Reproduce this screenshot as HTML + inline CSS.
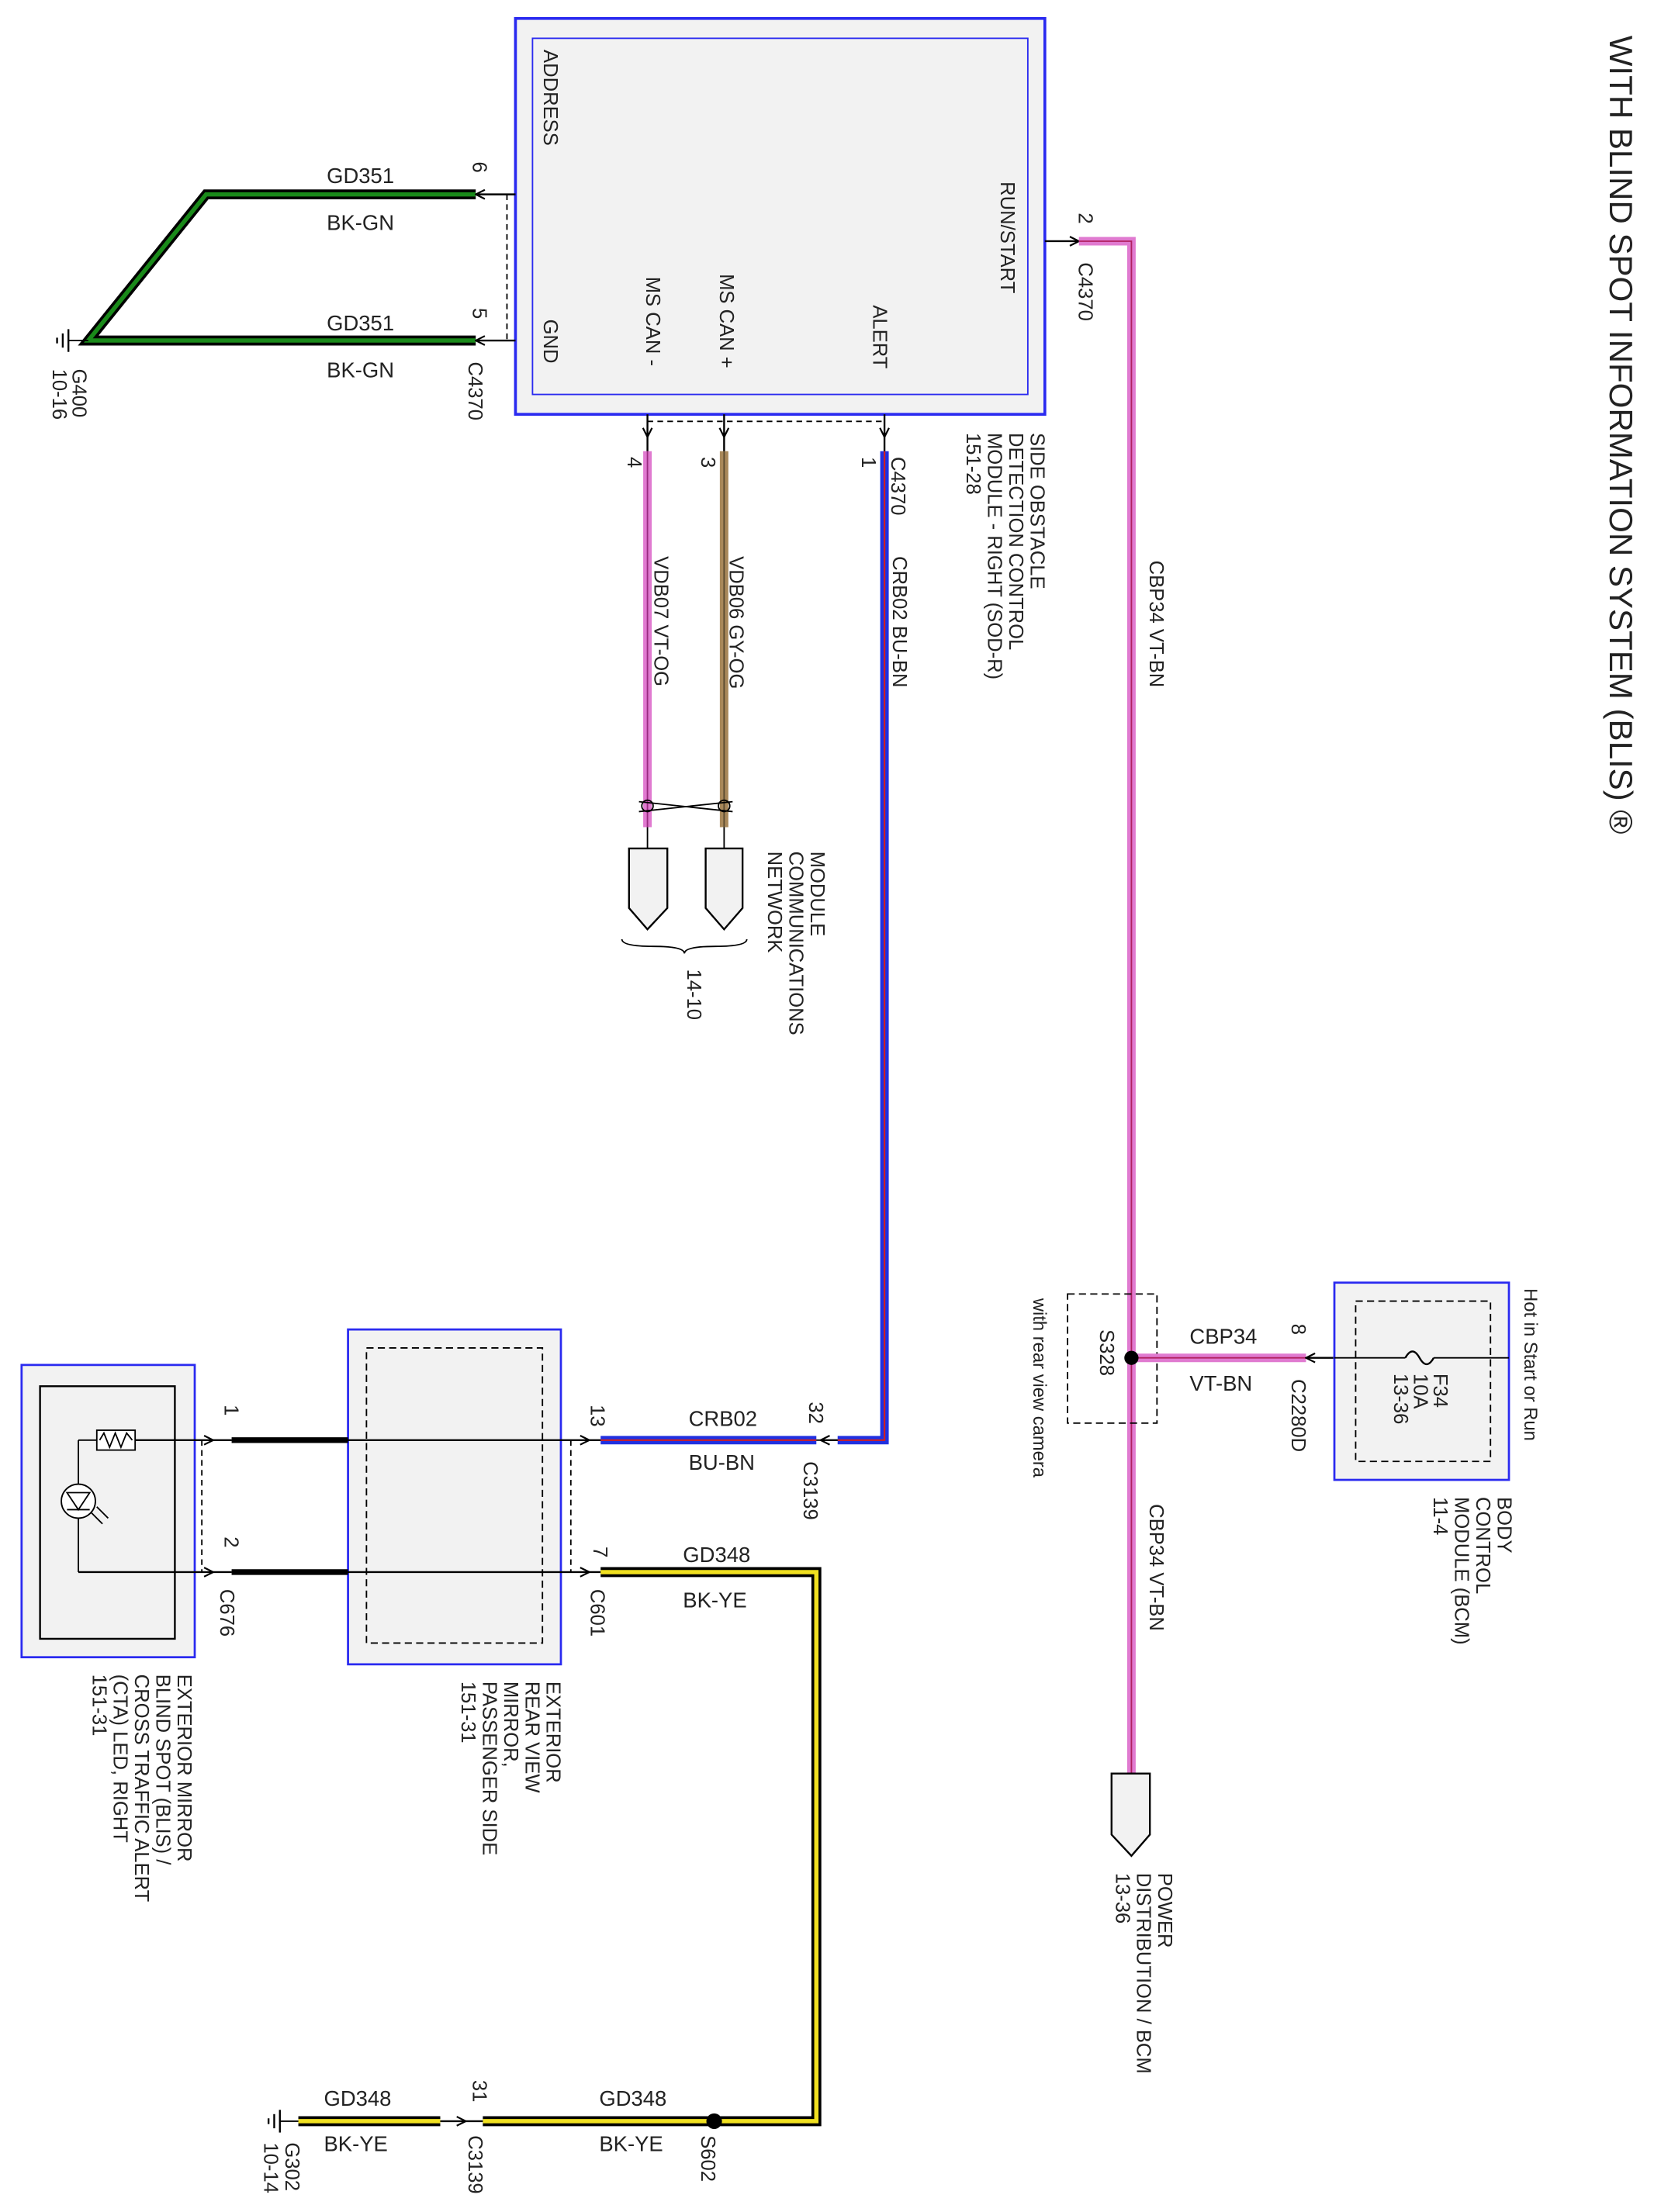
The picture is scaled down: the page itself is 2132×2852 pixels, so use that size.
<!DOCTYPE html>
<html><head><meta charset="utf-8"><style>
html,body{margin:0;padding:0;background:#fff;}
svg{display:block;}
text{font-family:"Liberation Sans",sans-serif;fill:#222;}
</style></head><body>
<svg width="2132" height="2852" viewBox="0 0 1165 1559" xmlns="http://www.w3.org/2000/svg">
<defs>
<marker id="ar" viewBox="0 0 10 10" refX="9" refY="5" markerWidth="8" markerHeight="8" orient="auto-start-reverse" markerUnits="userSpaceOnUse"><path d="M1,1 L9,5 L1,9" fill="none" stroke="#000" stroke-width="1.5"/></marker>
</defs>
<rect width="1165" height="1559" fill="#fff"/>

<text transform="translate(1134,25) rotate(90)" font-size="23">WITH BLIND SPOT INFORMATION SYSTEM (BLIS) ®</text>

<rect x="363" y="13" width="373" height="279" fill="#f2f2f2" stroke="#2a2af0" stroke-width="2"/>
<rect x="375" y="27" width="349" height="251" fill="#f2f2f2" stroke="#2a2af0" stroke-width="1"/>
<g font-size="14">
<text transform="translate(383,35) rotate(90)">ADDRESS</text>
<text transform="translate(383,225) rotate(90)">GND</text>
<text transform="translate(455,195) rotate(90)">MS CAN -</text>
<text transform="translate(507,193) rotate(90)">MS CAN +</text>
<text transform="translate(615,215) rotate(90)">ALERT</text>
<text transform="translate(705,128) rotate(90)">RUN/START</text>
</g>

<path d="M335,137 L145,137 L62,240 L335,240" fill="none" stroke="#000" stroke-width="7"/>
<path d="M335,137 L145,137 L62,240 L335,240" fill="none" stroke="#1a8a1a" stroke-width="3"/>
<line x1="335" y1="137" x2="363" y2="137" stroke="#000" stroke-width="1.3" marker-start="url(#ar)"/>
<line x1="335" y1="240" x2="363" y2="240" stroke="#000" stroke-width="1.3" marker-start="url(#ar)"/>
<line x1="357" y1="137" x2="357" y2="240" stroke="#000" stroke-dasharray="4,3"/>
<line x1="62" y1="240" x2="48" y2="240" stroke="#000"/>
<line x1="48" y1="232" x2="48" y2="248" stroke="#000" stroke-width="1.3"/>
<line x1="44" y1="235" x2="44" y2="245" stroke="#000" stroke-width="1.3"/>
<line x1="40" y1="238" x2="40" y2="242" stroke="#000" stroke-width="1.3"/>
<g font-size="15">
<text x="230" y="129">GD351</text>
<text x="230" y="162">BK-GN</text>
<text x="230" y="233">GD351</text>
<text x="230" y="266">BK-GN</text>
</g>
<g font-size="14">
<text transform="translate(333,114) rotate(90)">6</text>
<text transform="translate(333,217) rotate(90)">5</text>
<text transform="translate(330,255) rotate(90)">C4370</text>
<text transform="translate(51,260) rotate(90)">G400</text>
<text transform="translate(37,260) rotate(90)">10-16</text>
</g>

<line x1="456" y1="297" x2="623" y2="297" stroke="#000" stroke-dasharray="4,3"/>
<line x1="456" y1="292" x2="456" y2="308" stroke="#000" stroke-width="1.3" marker-end="url(#ar)"/>
<line x1="510" y1="292" x2="510" y2="308" stroke="#000" stroke-width="1.3" marker-end="url(#ar)"/>
<line x1="623" y1="292" x2="623" y2="308" stroke="#000" stroke-width="1.3" marker-end="url(#ar)"/>
<line x1="456" y1="305" x2="456" y2="320" stroke="#000" stroke-width="1.3"/>
<line x1="510" y1="305" x2="510" y2="320" stroke="#000" stroke-width="1.3"/>
<line x1="623" y1="305" x2="623" y2="320" stroke="#000" stroke-width="1.3"/>
<line x1="456" y1="318" x2="456" y2="583" stroke="#e07ad0" stroke-width="6"/>
<line x1="456" y1="318" x2="456" y2="583" stroke="#9a2a80" stroke-width="1"/>
<line x1="510" y1="318" x2="510" y2="583" stroke="#a8885a" stroke-width="6"/>
<line x1="510" y1="318" x2="510" y2="583" stroke="#5a4a30" stroke-width="1"/>
<path d="M450,565 L516,572 M450,572 L516,565" stroke="#000" fill="none"/>
<ellipse cx="456" cy="568" rx="4" ry="4" fill="none" stroke="#000"/>
<ellipse cx="510" cy="568" rx="4" ry="4" fill="none" stroke="#000"/>
<line x1="456" y1="583" x2="456" y2="598" stroke="#000"/>
<line x1="510" y1="583" x2="510" y2="598" stroke="#000"/>
<path d="M443,598 L470,598 L470,640 L456,655 L443,640 Z" fill="#f2f2f2" stroke="#000" stroke-width="1.3"/>
<path d="M497,598 L523,598 L523,640 L510,655 L497,640 Z" fill="#f2f2f2" stroke="#000" stroke-width="1.3"/>
<path d="M438,662 Q438,667 460,667 Q482,667 482,672 Q482,667 504,667 Q526,667 526,662" fill="none" stroke="#000"/>
<g font-size="14">
<text transform="translate(442,322) rotate(90)">4</text>
<text transform="translate(494,322) rotate(90)">3</text>
<text transform="translate(607,322) rotate(90)">1</text>
<text transform="translate(628,322) rotate(90)">C4370</text>
<text transform="translate(461,392) rotate(90)">VDB07   VT-OG</text>
<text transform="translate(514,392) rotate(90)">VDB06   GY-OG</text>
<text transform="translate(629,392) rotate(90)">CRB02   BU-BN</text>
<text transform="translate(571,600) rotate(90)">MODULE</text>
<text transform="translate(556,600) rotate(90)">COMMUNICATIONS</text>
<text transform="translate(541,600) rotate(90)">NETWORK</text>
<text transform="translate(484,683) rotate(90)">14-10</text>
<text transform="translate(726,305) rotate(90)">SIDE OBSTACLE</text>
<text transform="translate(711,305) rotate(90)">DETECTION CONTROL</text>
<text transform="translate(696,305) rotate(90)">MODULE - RIGHT (SOD-R)</text>
<text transform="translate(681,305) rotate(90)">151-28</text>
</g>

<path d="M623,318 L623,1015 L590,1015" fill="none" stroke="#2030e0" stroke-width="6"/>
<path d="M623,318 L623,1015 L590,1015" fill="none" stroke="#d02020" stroke-width="1.2"/>
<path d="M423,1015 L575,1015" fill="none" stroke="#2030e0" stroke-width="6"/>
<path d="M423,1015 L575,1015" fill="none" stroke="#d02020" stroke-width="1.2"/>
<line x1="590" y1="1015" x2="578" y2="1015" stroke="#000" stroke-width="1.3" marker-end="url(#ar)"/>
<line x1="578" y1="1015" x2="575" y2="1015" stroke="#000"/>

<line x1="736" y1="170" x2="760" y2="170" stroke="#000" stroke-width="1.3" marker-end="url(#ar)"/>
<path d="M760,170 L797,170 L797,1250" fill="none" stroke="#e07ad0" stroke-width="6"/>
<path d="M760,170 L797,170 L797,1250" fill="none" stroke="#b02060" stroke-width="1"/>
<g font-size="14">
<text transform="translate(760,150) rotate(90)">2</text>
<text transform="translate(760,185) rotate(90)">C4370</text>
<text transform="translate(810,395) rotate(90)">CBP34   VT-BN</text>
<text transform="translate(810,1060) rotate(90)">CBP34   VT-BN</text>
<text transform="translate(728,915) rotate(90)" font-size="13">with rear view camera</text>
<text transform="translate(775,937) rotate(90)">S328</text>
</g>
<rect x="752" y="912" width="63" height="91" fill="none" stroke="#000" stroke-dasharray="5,3"/>
<line x1="797" y1="957" x2="920" y2="957" stroke="#e07ad0" stroke-width="6"/>
<line x1="797" y1="957" x2="920" y2="957" stroke="#b02060" stroke-width="1"/>
<circle cx="797" cy="957" r="5" fill="#000"/>
<line x1="920" y1="957" x2="940" y2="957" stroke="#000" stroke-width="1.3" marker-start="url(#ar)"/>
<g font-size="15">
<text x="838" y="947">CBP34</text>
<text x="838" y="980">VT-BN</text>
</g>
<g font-size="14">
<text transform="translate(910,933) rotate(90)">8</text>
<text transform="translate(910,972) rotate(90)">C2280D</text>
</g>

<rect x="940" y="904" width="123" height="139" fill="#f2f2f2" stroke="#2a2af0" stroke-width="1.5"/>
<rect x="955" y="917" width="95" height="113" fill="none" stroke="#000" stroke-dasharray="5,3"/>
<line x1="940" y1="957" x2="990" y2="957" stroke="#000"/>
<line x1="1010" y1="957" x2="1063" y2="957" stroke="#000"/>
<path d="M990,957 Q995,948 1000,957 Q1005,966 1010,957" fill="none" stroke="#000" stroke-width="1.3"/>
<g font-size="14">
<text transform="translate(1010,968) rotate(90)">F34</text>
<text transform="translate(996,968) rotate(90)">10A</text>
<text transform="translate(982,968) rotate(90)">13-36</text>
<text transform="translate(1074,908) rotate(90)" font-size="13">Hot in Start or Run</text>
<text transform="translate(1055,1055) rotate(90)">BODY</text>
<text transform="translate(1040,1055) rotate(90)">CONTROL</text>
<text transform="translate(1025,1055) rotate(90)">MODULE (BCM)</text>
<text transform="translate(1010,1055) rotate(90)">11-4</text>
</g>
<path d="M783,1250 L810,1250 L810,1293 L797,1308 L783,1293 Z" fill="#f2f2f2" stroke="#000" stroke-width="1.3"/>
<g font-size="14">
<text transform="translate(816,1320) rotate(90)">POWER</text>
<text transform="translate(801,1320) rotate(90)">DISTRIBUTION / BCM</text>
<text transform="translate(786,1320) rotate(90)">13-36</text>
</g>

<rect x="245" y="937" width="150" height="236" fill="#f2f2f2" stroke="#2a2af0" stroke-width="1.5"/>
<rect x="258" y="950" width="124" height="208" fill="none" stroke="#000" stroke-dasharray="5,3"/>
<line x1="163" y1="1015" x2="245" y2="1015" stroke="#000" stroke-width="4"/>
<line x1="163" y1="1108" x2="245" y2="1108" stroke="#000" stroke-width="4"/>
<line x1="245" y1="1015" x2="415" y2="1015" stroke="#000" stroke-width="1.3" marker-end="url(#ar)"/>
<line x1="245" y1="1108" x2="415" y2="1108" stroke="#000" stroke-width="1.3" marker-end="url(#ar)"/>
<line x1="413" y1="1015" x2="423" y2="1015" stroke="#000" stroke-width="1.3"/>
<line x1="413" y1="1108" x2="423" y2="1108" stroke="#000" stroke-width="1.3"/>
<line x1="402" y1="1015" x2="402" y2="1108" stroke="#000" stroke-dasharray="4,3"/>
<g font-size="15">
<text x="485" y="1005">CRB02</text>
<text x="485" y="1036">BU-BN</text>
<text x="481" y="1101">GD348</text>
<text x="481" y="1133">BK-YE</text>
</g>
<g font-size="14">
<text transform="translate(416,990) rotate(90)">13</text>
<text transform="translate(570,988) rotate(90)">32</text>
<text transform="translate(566,1030) rotate(90)">C3139</text>
<text transform="translate(418,1090) rotate(90)">7</text>
<text transform="translate(416,1120) rotate(90)">C601</text>
<text transform="translate(385,1185) rotate(90)">EXTERIOR</text>
<text transform="translate(370,1185) rotate(90)">REAR VIEW</text>
<text transform="translate(355,1185) rotate(90)">MIRROR,</text>
<text transform="translate(340,1185) rotate(90)">PASSENGER SIDE</text>
<text transform="translate(325,1185) rotate(90)">151-31</text>
</g>

<path d="M423,1108 L575,1108 L575,1495 L340,1495" fill="none" stroke="#000" stroke-width="7"/>
<path d="M423,1108 L575,1108 L575,1495 L340,1495" fill="none" stroke="#f0e020" stroke-width="3"/>
<path d="M310,1495 L210,1495" fill="none" stroke="#000" stroke-width="7"/>
<path d="M310,1495 L210,1495" fill="none" stroke="#f0e020" stroke-width="3"/>
<line x1="310" y1="1495" x2="328" y2="1495" stroke="#000" stroke-width="1.3" marker-end="url(#ar)"/>
<line x1="326" y1="1495" x2="340" y2="1495" stroke="#000" stroke-width="1.3"/>
<circle cx="503" cy="1495" r="5.5" fill="#000"/>
<line x1="210" y1="1495" x2="197" y2="1495" stroke="#000"/>
<line x1="197" y1="1487" x2="197" y2="1503" stroke="#000" stroke-width="1.3"/>
<line x1="193" y1="1490" x2="193" y2="1500" stroke="#000" stroke-width="1.3"/>
<line x1="189" y1="1493" x2="189" y2="1497" stroke="#000" stroke-width="1.3"/>
<g font-size="15">
<text x="422" y="1484">GD348</text>
<text x="422" y="1516">BK-YE</text>
<text x="228" y="1484">GD348</text>
<text x="228" y="1516">BK-YE</text>
</g>
<g font-size="14">
<text transform="translate(333,1466) rotate(90)">31</text>
<text transform="translate(330,1505) rotate(90)">C3139</text>
<text transform="translate(494,1505) rotate(90)">S602</text>
<text transform="translate(201,1510) rotate(90)">G302</text>
<text transform="translate(186,1510) rotate(90)">10-14</text>
</g>

<rect x="15" y="962" width="122" height="206" fill="#f2f2f2" stroke="#2a2af0" stroke-width="1.5"/>
<rect x="28" y="977" width="95" height="178" fill="none" stroke="#000" stroke-width="1.3"/>
<line x1="55" y1="1015" x2="68" y2="1015" stroke="#000"/>
<rect x="68" y="1008" width="27" height="14" fill="#fff" stroke="#000"/>
<path d="M70,1015 L73,1010 L77,1020 L81,1010 L85,1020 L89,1010 L93,1015" fill="none" stroke="#000"/>
<line x1="95" y1="1015" x2="150" y2="1015" stroke="#000" stroke-width="1.3" marker-end="url(#ar)"/>
<line x1="148" y1="1015" x2="163" y2="1015" stroke="#000" stroke-width="1.3"/>
<line x1="55" y1="1015" x2="55" y2="1108" stroke="#000"/>
<line x1="55" y1="1108" x2="150" y2="1108" stroke="#000" stroke-width="1.3" marker-end="url(#ar)"/>
<line x1="148" y1="1108" x2="163" y2="1108" stroke="#000" stroke-width="1.3"/>
<circle cx="55" cy="1058" r="12" fill="#fff" stroke="#000"/>
<path d="M47,1052 L63,1052 L55,1064 Z" fill="none" stroke="#000"/>
<line x1="47" y1="1064" x2="63" y2="1064" stroke="#000"/>
<path d="M64,1066 L72,1074 M68,1062 L76,1070" stroke="#000"/>
<line x1="142" y1="1015" x2="142" y2="1108" stroke="#000" stroke-dasharray="4,3"/>
<g font-size="14">
<text transform="translate(158,990) rotate(90)">1</text>
<text transform="translate(158,1083) rotate(90)">2</text>
<text transform="translate(155,1120) rotate(90)">C676</text>
<text transform="translate(125,1180) rotate(90)">EXTERIOR MIRROR</text>
<text transform="translate(110,1180) rotate(90)">BLIND SPOT (BLIS) /</text>
<text transform="translate(95,1180) rotate(90)">CROSS TRAFFIC ALERT</text>
<text transform="translate(80,1180) rotate(90)">(CTA) LED, RIGHT</text>
<text transform="translate(65,1180) rotate(90)">151-31</text>
</g>
</svg>
</body></html>
